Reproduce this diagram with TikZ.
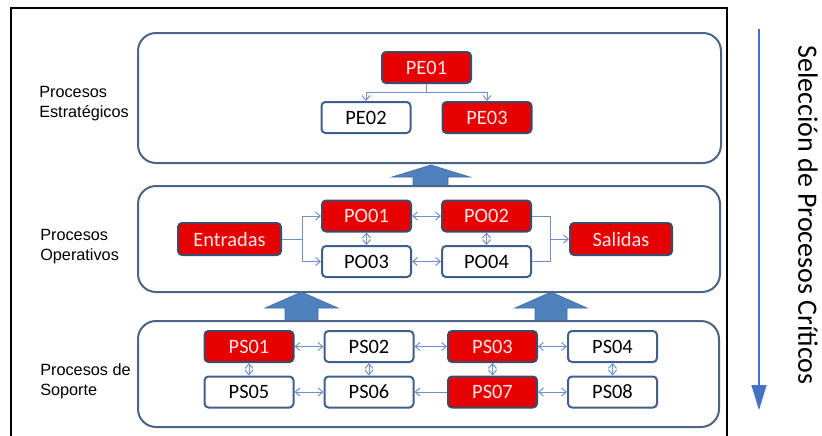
\documentclass[tikz,border=0pt]{standalone}
\usepackage{fontspec}
\setmainfont{Carlito}
\newfontfamily\arialf{Liberation Sans}
\usetikzlibrary{arrows.meta}
\definecolor{redf}{HTML}{E60000}
\definecolor{redb}{HTML}{3C4B69}
\definecolor{redt}{HTML}{FFE6E6}
\definecolor{boxc}{HTML}{415F8C}
\definecolor{panelc}{HTML}{4B6487}
\definecolor{connc}{HTML}{6E91C8}
\definecolor{blkc}{HTML}{4F81BD}
\definecolor{blkd}{HTML}{3F6FA8}
\definecolor{selc}{HTML}{4472C4}
\begin{document}
\begin{tikzpicture}[x=0.75pt,y=-0.75pt,
  >={Straight Barb[length=3.5pt,width=6pt]},
  panel/.style={draw=panelc,line width=1.5pt,rounded corners=13.5pt,fill=white},
  pbox/.style={draw=boxc,line width=1.5pt,rounded corners=3pt,fill=white,
    minimum width=66.75pt,minimum height=23.25pt,inner sep=0pt,
    font=\fontsize{15.3}{18}\selectfont,text=black},
  rbox/.style={pbox,draw=redb,fill=redf,text=redt},
  conn/.style={draw=connc,line width=0.75pt},
  lab/.style={font=\arialf\fontsize{12.2}{15}\selectfont,anchor=base west,inner sep=0pt},
  blockarr/.style={fill=blkc,draw=blkd,line width=0.5pt},
  selarrow/.style={draw=selc,line width=1pt,-{Triangle[length=18.75pt,width=11.25pt]}}]
\fill[white] (0,0) rectangle (822,436);
\useasboundingbox (0,0) rectangle (822,436);
% outer frame
\draw[black,line width=1.5pt] (11,437) -- (11,8) -- (727,8) -- (727,437);
% block arrows
\draw[blockarr] (413,187) -- (413,177) -- (392,177) -- (431,165) -- (470,177) -- (448,177) -- (448,187) -- cycle;
\draw[blockarr] (285,321) -- (285,308) -- (265,308) -- (301.5,292) -- (338,308) -- (318,308) -- (318,321) -- cycle;
\draw[blockarr] (535,321) -- (535,308) -- (515,308) -- (551,292) -- (587,308) -- (567,308) -- (567,321) -- cycle;
% panels
\draw[panel] (138,33) rectangle (721,163);
\draw[panel] (138,186) rectangle (720,292);
\draw[panel] (138,321) rectangle (719,427);
% labels
\node[lab] (le1) at (39,97) {Procesos};
\node[lab] (le2) at (39,117) {Estratégicos};
\node[lab] (lo1) at (40,240) {Procesos};
\node[lab] (lo2) at (40,260) {Operativos};
\node[lab] (ls1) at (40,375) {Procesos de};
\node[lab] (ls2) at (40,395) {Soporte};
% strategic
\node[rbox] (PE01) at (426.5,67.5) {PE01};
\node[pbox] (PE02) at (366,117.5) {PE02};
\node[rbox] (PE03) at (487,117.5) {PE03};
% operative
\node[rbox,minimum width=77.25pt,minimum height=24pt] (Ent) at (229.5,239) {Entradas};
\node[rbox] (PO01) at (366.5,216) {PO01};
\node[rbox] (PO02) at (486.5,216) {PO02};
\node[pbox] (PO03) at (366.5,261.5) {PO03};
\node[pbox] (PO04) at (486.5,261.5) {PO04};
\node[rbox,minimum width=76.5pt,minimum height=24pt] (Sal) at (621,239) {Salidas};
% support
\node[rbox] (PS01) at (249,346.5) {PS01};
\node[pbox] (PS02) at (369,346.5) {PS02};
\node[rbox] (PS03) at (492.5,346.5) {PS03};
\node[pbox] (PS04) at (612.5,346.5) {PS04};
\node[pbox] (PS05) at (249,392) {PS05};
\node[pbox] (PS06) at (369,392) {PS06};
\node[rbox] (PS07) at (492.5,392) {PS07};
\node[pbox] (PS08) at (612.5,392) {PS08};
% connectors: strategic
\coordinate (jE) at (426.5,92);
\draw[conn] (PE01.south) -- (jE);
\draw[conn,->] (jE) -| (PE02.north);
\draw[conn,->] (jE) -| (PE03.north);
% connectors: operative
\coordinate (jL) at (302,239);
\coordinate (jR) at (550,239);
\draw[conn] (Ent.east) -- (jL);
\draw[conn,->] (jL) |- (PO01.west);
\draw[conn,->] (jL) |- (PO03.west);
\draw[conn,<->] (PO01) -- (PO02);
\draw[conn,<->] (PO03) -- (PO04);
\draw[conn,<->] (PO01) -- (PO03);
\draw[conn,<->] (PO02) -- (PO04);
\draw[conn] (PO02.east) -| (jR);
\draw[conn] (PO04.east) -| (jR);
\draw[conn,->] (jR) -- (Sal.west);
% connectors: support
\draw[conn,<->] (PS01) -- (PS02);
\draw[conn,<->] (PS02) -- (PS03);
\draw[conn,<->] (PS03) -- (PS04);
\draw[conn,<->] (PS05) -- (PS06);
\draw[conn,->] (PS07) -- (PS06);
\draw[conn,<->] (PS07) -- (PS08);
\draw[conn,<->] (PS01) -- (PS05);
\draw[conn,<->] (PS02) -- (PS06);
\draw[conn,<->] (PS03) -- (PS07);
\draw[conn,<->] (PS04) -- (PS08);
% right arrow and text
\coordinate (selTop) at (759,29);
\coordinate (selEnd) at (759,410);
\draw[selarrow] (selTop) -- (selEnd);
\node[rotate=-90,inner sep=0pt,font=\fontsize{21}{25}\selectfont] (sel) at (808,215) {Selección de Procesos Críticos};
\end{tikzpicture}
\end{document}
